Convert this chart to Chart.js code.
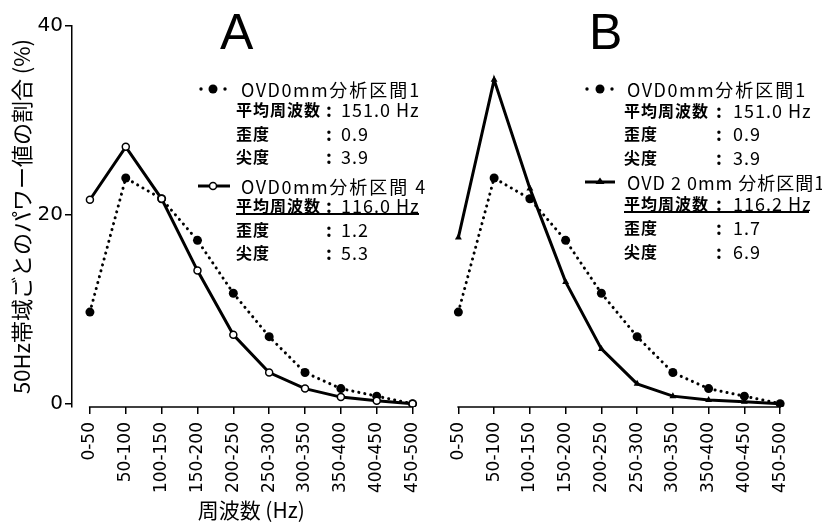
<!DOCTYPE html>
<html>
<head>
<meta charset="utf-8">
<script src="https://cdn.jsdelivr.net/npm/chart.js@4.4.0/dist/chart.umd.min.js"></script>
<style>
  html, body { margin: 0; padding: 0; background: #fff; }
  #wrap { position: relative; width: 822px; height: 525px; overflow: hidden; }
  canvas { position: absolute; top: 0; }
  #chartA { left: 0; }
  #chartB { left: 436px; }
  .t { position: absolute; color: #000; white-space: nowrap; transform: translateY(-50%);
       font-family: "Noto Sans CJK JP", "Noto Sans", sans-serif; line-height: 1; }
  .head { font-size: 18px; letter-spacing: 2px; }
  .head .lat { letter-spacing: 1.5px; }
  .lab { font-size: 16px; font-weight: 700; letter-spacing: 1px; }
  .val { font-size: 18px; letter-spacing: 1px; }
  .colon { font-size: 18px; font-weight: 700; }
  .panel { position: absolute; top: 7px; font-family: "Liberation Sans", sans-serif; font-size: 50px; line-height: 1; }
  .rule { position: absolute; height: 1.5px; background: #000; }
  svg { position: absolute; overflow: visible; }
</style>
</head>
<body>
<div id="wrap">
  <canvas id="chartA" width="436" height="525"></canvas>
  <canvas id="chartB" width="386" height="525"></canvas>

  <div class="panel" style="left:220px">A</div>
  <div class="panel" style="left:589px">B</div>

  <!-- panel A legend -->
  <svg style="left:196px;top:80px" width="36" height="18">
    <circle cx="5" cy="9" r="1.7" fill="#000"/><circle cx="17" cy="9" r="4.5" fill="#000"/><circle cx="29" cy="9" r="1.7" fill="#000"/>
  </svg>
  <div class="t head" style="left:241px;top:89px"><span class="lat">OVD0mm</span>分析区間1</div>
  <div class="t lab" style="left:236px;top:109px">平均周波数</div>
  <div class="t colon" style="left:326px;top:109px">:</div>
  <div class="t val" style="left:341px;top:109px">151.0 Hz</div>
  <div class="t lab" style="left:236px;top:133px">歪度</div>
  <div class="t colon" style="left:326px;top:133px">:</div>
  <div class="t val" style="left:341px;top:133px">0.9</div>
  <div class="t lab" style="left:236px;top:156px">尖度</div>
  <div class="t colon" style="left:326px;top:156px">:</div>
  <div class="t val" style="left:341px;top:156px">3.9</div>

  <svg style="left:196px;top:177px" width="36" height="18">
    <line x1="2" y1="9" x2="34" y2="9" stroke="#000" stroke-width="3"/>
    <circle cx="17" cy="9" r="3.5" fill="#fff" stroke="#000" stroke-width="1.5"/>
  </svg>
  <div class="t head" style="left:241px;top:186px"><span class="lat">OVD0mm</span>分析区間 4</div>
  <div class="t lab" style="left:236px;top:205px">平均周波数</div>
  <div class="t colon" style="left:326px;top:205px">:</div>
  <div class="t val" style="left:341px;top:205px">116.0 Hz</div>
  <div class="rule" style="left:236px;top:213px;width:183px"></div>
  <div class="t lab" style="left:236px;top:229px">歪度</div>
  <div class="t colon" style="left:326px;top:229px">:</div>
  <div class="t val" style="left:341px;top:229px">1.2</div>
  <div class="t lab" style="left:236px;top:252px">尖度</div>
  <div class="t colon" style="left:326px;top:252px">:</div>
  <div class="t val" style="left:341px;top:252px">5.3</div>

  <!-- panel B legend -->
  <svg style="left:583px;top:80px" width="34" height="18">
    <circle cx="4" cy="9" r="1.7" fill="#000"/><circle cx="17" cy="9" r="4.5" fill="#000"/><circle cx="29" cy="9" r="1.7" fill="#000"/>
  </svg>
  <div class="t head" style="left:627px;top:89px"><span class="lat">OVD0mm</span>分析区間1</div>
  <div class="t lab" style="left:624px;top:110px">平均周波数</div>
  <div class="t colon" style="left:716px;top:110px">:</div>
  <div class="t val" style="left:733px;top:110px">151.0 Hz</div>
  <div class="t lab" style="left:624px;top:133px">歪度</div>
  <div class="t colon" style="left:716px;top:133px">:</div>
  <div class="t val" style="left:733px;top:133px">0.9</div>
  <div class="t lab" style="left:624px;top:157px">尖度</div>
  <div class="t colon" style="left:716px;top:157px">:</div>
  <div class="t val" style="left:733px;top:157px">3.9</div>

  <svg style="left:583px;top:173px" width="34" height="18">
    <line x1="2" y1="9" x2="32" y2="9" stroke="#000" stroke-width="3"/>
    <polygon points="17,4.5 21.5,11 12.5,11" fill="#000"/>
  </svg>
  <div class="t head" style="left:627px;top:182px;letter-spacing:1px"><span class="lat" style="letter-spacing:1px">OVD 2 0mm</span> 分析区間1</div>
  <div class="t lab" style="left:624px;top:203px">平均周波数</div>
  <div class="t colon" style="left:716px;top:203px">:</div>
  <div class="t val" style="left:733px;top:203px">116.2 Hz</div>
  <div class="rule" style="left:624px;top:211px;width:185px"></div>
  <div class="t lab" style="left:624px;top:227px">歪度</div>
  <div class="t colon" style="left:716px;top:227px">:</div>
  <div class="t val" style="left:733px;top:227px">1.7</div>
  <div class="t lab" style="left:624px;top:251px">尖度</div>
  <div class="t colon" style="left:716px;top:251px">:</div>
  <div class="t val" style="left:733px;top:251px">6.9</div>
</div>

<script>
// 50 Hz frequency bands
const bands = ['0-50', '50-100', '100-150', '150-200', '200-250', '250-300', '300-350', '350-400', '400-450', '450-500'];

// share of power per band (%)
const ovd0Seg1 = [9.7, 23.9, 21.7, 17.3, 11.7, 7.1, 3.3, 1.6, 0.8, 0];
const ovd0Seg4 = [21.6, 27.2, 21.7, 14.1, 7.3, 3.3, 1.6, 0.7, 0.3, 0];
const ovd20Seg1 = [17.6, 34.3, 22.8, 12.9, 5.8, 2.1, 0.8, 0.4, 0.2, 0];

const yTicks = [0, 20, 40];

const BLACK = '#000';

// x axis line only spans first to last band, like the printed figure
const bandAxisLine = {
    id: 'bandAxisLine',
    afterDraw(chart) {
        const x = chart.scales.x;
        const ctx = chart.ctx;
        ctx.save();
        ctx.strokeStyle = BLACK;
        ctx.lineWidth = 1.5;
        ctx.beginPath();
        ctx.moveTo(x.getPixelForValue(0) - 1, chart.chartArea.bottom);
        ctx.lineTo(x.getPixelForValue(bands.length - 1) + 1, chart.chartArea.bottom);
        ctx.stroke();
        ctx.restore();
    }
};

function dottedSet(data) {
    return {
        data: data,
        borderColor: BLACK,
        borderWidth: 3,
        borderDash: [0.1, 6],
        borderCapStyle: 'round',
        pointStyle: 'circle',
        pointRadius: 4.5,
        pointBackgroundColor: BLACK,
        pointBorderWidth: 0,
        tension: 0
    };
}

function solidSet(data, style) {
    const set = {
        data: data,
        borderColor: BLACK,
        borderWidth: 3,
        tension: 0,
        pointStyle: style
    };
    if (style === 'circle') {
        set.pointRadius = 3.5;
        set.pointBackgroundColor = '#fff';
        set.pointBorderColor = BLACK;
        set.pointBorderWidth = 1.5;
    } else {
        set.pointRadius = 4;
        set.pointBackgroundColor = BLACK;
        set.pointBorderWidth = 0;
    }
    return set;
}

function makeOptions(showY, padding) {
    return {
        responsive: false,
        animation: false,
        devicePixelRatio: 1,
        layout: { padding: padding },
        plugins: { legend: { display: false }, tooltip: { enabled: false } },
        scales: {
            x: {
                type: 'category',
                offset: true,
                afterFit: s => {
                    s.height = 118;
                    s.paddingLeft = 0;
                    s.paddingRight = 0;
                },
                border: { display: false },
                grid: { drawOnChartArea: false, drawTicks: true, tickLength: 7, color: BLACK, lineWidth: 1.5 },
                ticks: {
                    color: BLACK,
                    minRotation: 90,
                    maxRotation: 90,
                    autoSkip: false,
                    padding: 8,
                    font: { family: 'DejaVu Sans', size: 17 }
                },
                title: {
                    display: showY,
                    text: '周波数 (Hz)',
                    color: BLACK,
                    padding: { top: 0, bottom: 2 },
                    font: { family: 'Noto Sans CJK JP', size: 21 }
                }
            },
            y: {
                display: showY,
                min: -0.35,
                max: 40,
                afterFit: s => { if (showY) s.width = 72; },
                afterBuildTicks: s => { s.ticks = yTicks.map(v => ({ value: v })); },
                border: { display: true, color: BLACK, width: 1.5 },
                grid: { drawOnChartArea: false, drawTicks: true, tickLength: 7, color: BLACK, lineWidth: 1.5 },
                ticks: {
                    color: BLACK,
                    padding: 2,
                    font: { family: 'DejaVu Sans', size: 20 }
                },
                title: {
                    display: true,
                    text: '50Hz帯域ごとのパワー値の割合 (%)',
                    color: BLACK,
                    padding: { top: 8, bottom: 4 },
                    font: { family: 'Noto Sans CJK JP', size: 22 }
                }
            }
        }
    };
}

document.addEventListener('DOMContentLoaded', function() {
    new Chart(document.getElementById('chartA'), {
        type: 'line',
        data: {
            labels: bands,
            datasets: [solidSet(ovd0Seg4, 'circle'), dottedSet(ovd0Seg1)]
        },
        options: makeOptions(true, { top: 26, right: 5, left: 0, bottom: 0 }),
        plugins: [bandAxisLine]
    });

    new Chart(document.getElementById('chartB'), {
        type: 'line',
        data: {
            labels: bands,
            datasets: [solidSet(ovd20Seg1, 'triangle'), dottedSet(ovd0Seg1)]
        },
        options: makeOptions(false, { top: 26, right: 24, left: 4, bottom: 0 }),
        plugins: [bandAxisLine]
    });
});
</script>
</body>
</html>
